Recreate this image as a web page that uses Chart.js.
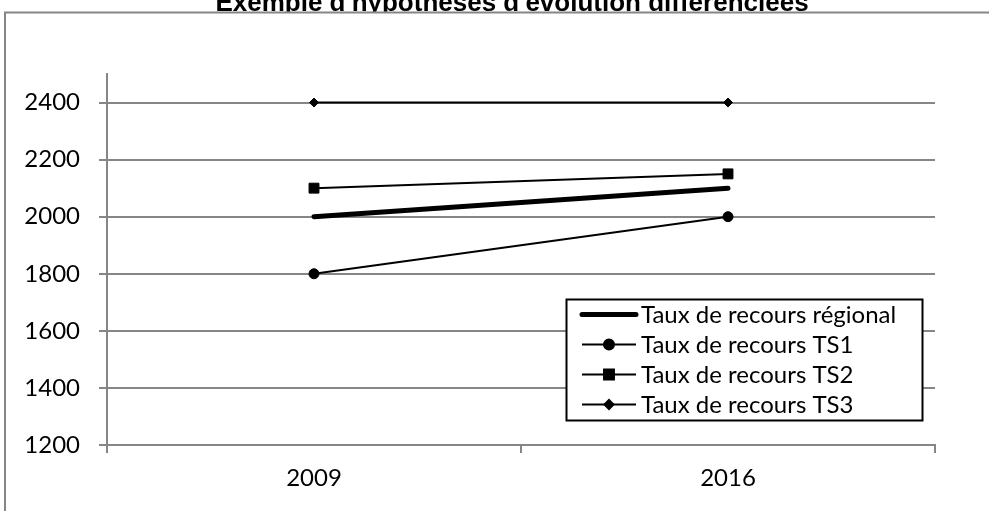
<!DOCTYPE html>
<html>
<head>
<meta charset="utf-8">
<script src="https://cdn.jsdelivr.net/npm/chart.js@4/dist/chart.umd.min.js"></script>
<style>
    html, body { margin: 0; padding: 0; background: #ffffff; }
    #cadre { width: 989px; height: 511px; position: relative; }
</style>
</head>
<body>
<div id="cadre"><canvas id="graphique"></canvas></div>
<script>
// données
const annees = ['2009', '2016'];
const tauxRegional = [2000, 2100];
const tauxTS1 = [1800, 2000];
const tauxTS2 = [2100, 2150];
const tauxTS3 = [2400, 2400];
const nomsSeries = [
    'Taux de recours régional',
    'Taux de recours TS1',
    'Taux de recours TS2',
    'Taux de recours TS3'
];
const graduationsY = [1200, 1400, 1600, 1800, 2000, 2200, 2400];
const titre = "Exemple d'hypothèses d'évolution différenciées";

const gris = '#868686';
const noir = '#000000';
const policeTexte = { family: "Lato, 'Open Sans', sans-serif", size: 24 };

// cadre gris + titre coupé en haut
const cadrePlugin = {
    id: 'cadre',
    beforeDraw(chart) {
        const ctx = chart.ctx;
        ctx.save();
        ctx.fillStyle = '#ffffff';
        ctx.fillRect(0, 0, chart.width, chart.height);
        ctx.strokeStyle = gris;
        ctx.lineWidth = 2;
        ctx.beginPath();
        ctx.moveTo(5, chart.height + 5);
        ctx.lineTo(5, 12.5);
        ctx.lineTo(chart.width + 5, 12.5);
        ctx.stroke();
        ctx.restore();
    },
    afterDraw(chart) {
        const ctx = chart.ctx;
        ctx.save();
        ctx.beginPath();
        ctx.rect(0, 0, chart.width, 11.5);
        ctx.clip();
        ctx.fillStyle = noir;
        ctx.font = "bold 26px 'Liberation Sans', Arial, sans-serif";
        ctx.textAlign = 'center';
        ctx.textBaseline = 'alphabetic';
        ctx.fillText(titre, 512, 11);
        ctx.restore();
    }
};

// légende dans un cadre noir, par-dessus la zone de tracé
const legendePlugin = {
    id: 'legendeEncadree',
    afterDatasetsDraw(chart) {
        const ctx = chart.ctx;
        const boite = { x: 566.5, y: 299.5, w: 356, h: 121 };
        ctx.save();
        ctx.fillStyle = '#ffffff';
        ctx.fillRect(boite.x, boite.y, boite.w, boite.h);
        ctx.strokeStyle = noir;
        ctx.lineWidth = 2;
        ctx.strokeRect(boite.x, boite.y, boite.w, boite.h);

        chart.data.datasets.forEach((ds, i) => {
            const y = boite.y + 15 + i * 30;
            ctx.strokeStyle = noir;
            ctx.lineWidth = ds.borderWidth;
            ctx.lineCap = ds.borderCapStyle || 'butt';
            ctx.beginPath();
            ctx.moveTo(582, y);
            ctx.lineTo(636, y);
            ctx.stroke();
            if (ds.pointRadius > 0) {
                ctx.fillStyle = noir;
                ctx.lineCap = 'butt';
                Chart.helpers.drawPoint(ctx, {
                    pointStyle: ds.pointStyle,
                    radius: ds.pointRadius,
                    borderWidth: ds.pointBorderWidth,
                    rotation: 0
                }, 609, y);
            }
            ctx.fillStyle = noir;
            ctx.font = `${policeTexte.size}px ${policeTexte.family}`;
            ctx.textAlign = 'left';
            ctx.textBaseline = 'middle';
            ctx.fillText(ds.label, 641, y + 1);
        });
        ctx.restore();
    }
};

const ctx = document.getElementById('graphique');

new Chart(ctx, {
    type: 'line',
    data: {
        labels: annees,
        datasets: [{
            label: nomsSeries[0],
            data: tauxRegional,
            borderColor: noir,
            borderWidth: 5,
            borderCapStyle: 'round',
            pointRadius: 0,
            pointHoverRadius: 0,
            pointBorderWidth: 0
        }, {
            label: nomsSeries[1],
            data: tauxTS1,
            borderColor: noir,
            backgroundColor: noir,
            borderWidth: 2,
            pointStyle: 'circle',
            pointRadius: 5,
            pointBorderWidth: 1,
            pointBackgroundColor: noir,
            pointBorderColor: noir
        }, {
            label: nomsSeries[2],
            data: tauxTS2,
            borderColor: noir,
            backgroundColor: noir,
            borderWidth: 2,
            pointStyle: 'rect',
            pointRadius: 7,
            pointBorderWidth: 1,
            pointBackgroundColor: noir,
            pointBorderColor: noir
        }, {
            label: nomsSeries[3],
            data: tauxTS3,
            borderColor: noir,
            backgroundColor: noir,
            borderWidth: 2,
            pointStyle: 'rectRot',
            pointRadius: 4.5,
            pointBorderWidth: 1,
            pointBackgroundColor: noir,
            pointBorderColor: noir
        }]
    },
    options: {
        responsive: true,
        maintainAspectRatio: false,
        animation: false,
        events: [],
        layout: {
            padding: { top: 74, right: 54, bottom: 0, left: 0 }
        },
        plugins: {
            legend: { display: false },
            title: { display: false },
            tooltip: { enabled: false }
        },
        scales: {
            x: {
                offset: true,
                grid: {
                    offset: true,
                    drawOnChartArea: false,
                    drawTicks: true,
                    tickLength: 8,
                    color: gris,
                    lineWidth: 2
                },
                border: { display: true, color: gris, width: 2 },
                ticks: {
                    color: noir,
                    font: policeTexte,
                    padding: 11,
                    maxRotation: 0,
                    minRotation: 0
                },
                afterFit(scale) {
                    scale.height = 66;
                }
            },
            y: {
                min: 1200,
                max: 2500,
                grid: {
                    drawTicks: true,
                    tickLength: 8,
                    color: gris,
                    lineWidth: 2
                },
                border: { display: true, color: gris, width: 2 },
                ticks: {
                    stepSize: 200,
                    color: noir,
                    font: policeTexte,
                    padding: 19,
                    callback: value => String(value)
                },
                afterBuildTicks(scale) {
                    scale.ticks = graduationsY.map(v => ({ value: v }));
                },
                afterFit(scale) {
                    scale.width = 107;
                }
            }
        }
    },
    plugins: [cadrePlugin, legendePlugin]
});
</script>
</body>
</html>
